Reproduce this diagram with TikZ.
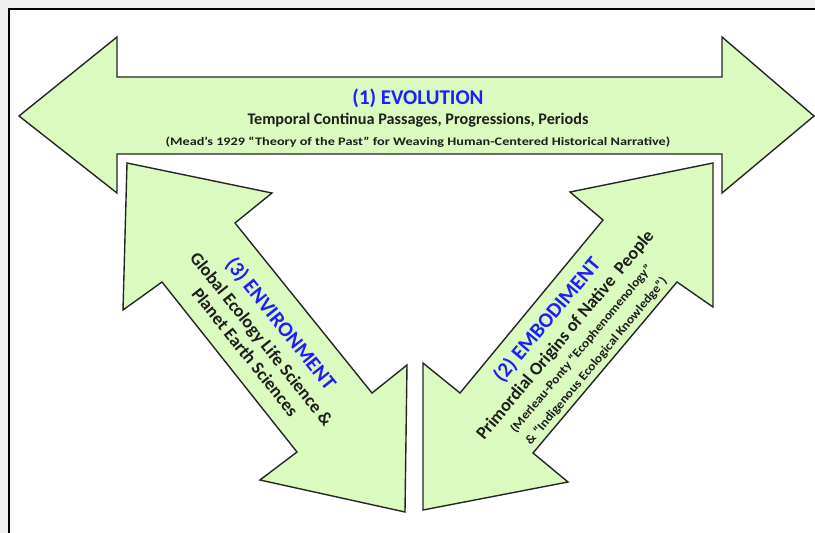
\documentclass[tikz,border=0pt]{standalone}
\usepackage{fontspec}
\setmainfont{Carlito}
\usepackage{graphicx}
\definecolor{arrowfill}{RGB}{218,250,192}
\definecolor{pagegray}{RGB}{237,239,241}
\definecolor{headblue}{RGB}{30,30,255}
\definecolor{textdark}{RGB}{30,30,30}
\newcommand{\headfont}{\color{headblue}\fontsize{21}{24}\selectfont}
\newcommand{\mainfont}{\fontsize{16.2}{19}\selectfont}
\newcommand{\diagfont}{\fontsize{18}{21}\selectfont}
\newcommand{\notefont}{\fontsize{12.5}{15}\selectfont}
\begin{document}
\begin{tikzpicture}[x=1pt,y=-1pt,
  arrowshape/.style={fill=arrowfill,draw=black!85,line width=1.4pt,line join=miter},
  label/.style={align=center,inner sep=0pt,text=textdark,font=\bfseries}]
\useasboundingbox (0,0) rectangle (815,533);
% page background and frame
\fill[pagegray] (0,0) rectangle (815,533);
\fill[white] (9,9) rectangle (815,533);
\draw[black,line width=2pt] (9,533) -- (9,9) -- (815,9);
% (1) evolution arrow
\draw[arrowshape] (19,116) -- (117,37) -- (117,77) -- (722,77) -- (722,37) -- (814,116)
  -- (722,193) -- (722,154) -- (117,154) -- (117,193) -- cycle;
% (3) environment arrow
\draw[arrowshape] (127,163) -- (272,193) -- (235,223) -- (372,393) -- (407,365) -- (405,512)
  -- (260,480) -- (297,452) -- (162,282) -- (123,310) -- cycle;
% (2) embodiment arrow
\draw[arrowshape] (713,163) -- (713,307) -- (677,282) -- (533,453) -- (568,482) -- (423,510)
  -- (423,363) -- (460,393) -- (603,220) -- (570,192) -- cycle;
% texts of (1)
\node[label,font=\bfseries\fontsize{16}{20.5}\selectfont] (evo) at (418,118)
  {{\headfont (1) EVOLUTION}\\
   {\mainfont Temporal Continua Passages, Progressions, Periods}\\
   {\fontsize{11.5}{14}\selectfont\scalebox{1.24}[1]{(Mead's 1929 “Theory of the Past” for Weaving Human-Centered Historical Narrative)}}};
% texts of (3)
\node[label,rotate=-51.3,font=\bfseries\fontsize{18}{21}\selectfont] (env) at (264,337)
  {{\headfont (3) ENVIRONMENT}\\[3pt]
   {\diagfont Global Ecology Life Science \&}\\
   {\diagfont Planet Earth Sciences}};
% texts of (2)
\node[label,rotate=50.2,font=\bfseries\fontsize{13}{19.5}\selectfont] (emb) at (570.5,339.5)
  {{\headfont (2) EMBODIMENT}\\[3pt]
   {\diagfont Primordial Origins of Native\ \ People}\\
   {\notefont\scalebox{1.08}[1]{(Merleau-Ponty “Ecophenomenology”}}\\
   {\notefont\scalebox{1.08}[1]{\& “Indigenous Ecological Knowledge”)}}};
\end{tikzpicture}
\end{document}
